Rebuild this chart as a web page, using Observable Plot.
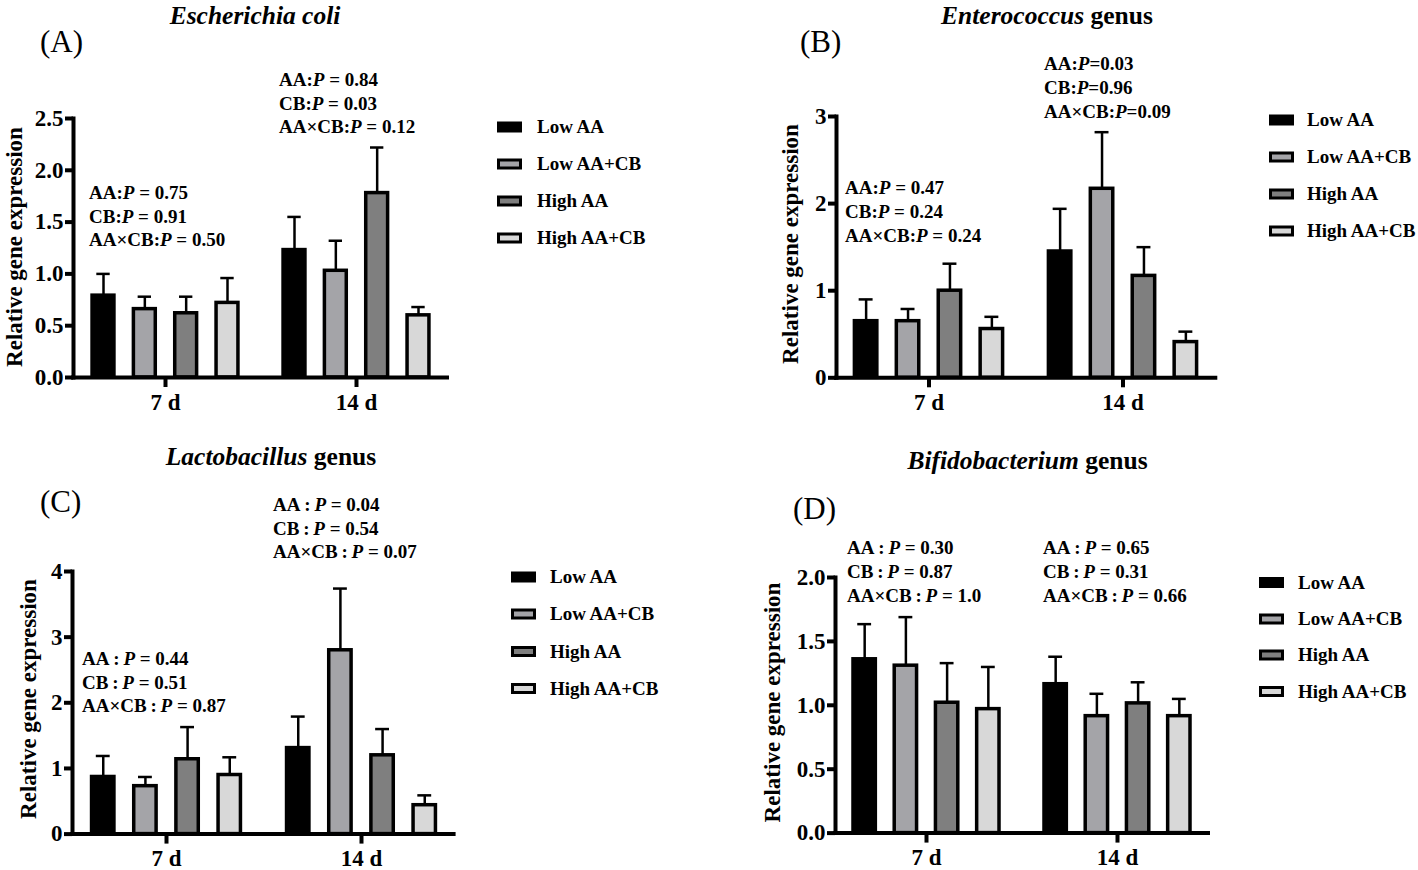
<!DOCTYPE html>
<html>
<head>
<meta charset="utf-8">
<script src="https://cdn.jsdelivr.net/npm/d3@7"></script>
<script src="https://cdn.jsdelivr.net/npm/@observablehq/plot@0.6"></script>
<style>
html,body{margin:0;padding:0;background:#fff;}
#page{position:relative;width:1418px;height:870px;overflow:hidden;background:#fff;}
#page svg{position:absolute;}
</style>
</head>
<body>
<div id="page"></div>
<script>
// ---------------- data ----------------
const days = ["7 d", "14 d"];
const treatments = ["Low AA", "Low AA+CB", "High AA", "High AA+CB"];
const fills = ["#000000", "#a4a4a8", "#7f7f7f", "#d8d8d8"];

// (A) Escherichia coli
const ecoliMean7 = [0.79, 0.66, 0.62, 0.72];
const ecoliUpper7 = [1.00, 0.78, 0.78, 0.96];
const ecoliMean14 = [1.23, 1.03, 1.78, 0.60];
const ecoliUpper14 = [1.55, 1.32, 2.22, 0.68];
const ecoliTicks = [0, 0.5, 1.0, 1.5, 2.0, 2.5];
const ecoliAnn7 = ["AA:P = 0.75", "CB:P = 0.91", "AA×CB:P = 0.50"];
const ecoliAnn14 = ["AA:P = 0.84", "CB:P = 0.03", "AA×CB:P = 0.12"];

// (B) Enterococcus genus
const enteroMean7 = [0.65, 0.65, 1.00, 0.56];
const enteroUpper7 = [0.90, 0.79, 1.31, 0.70];
const enteroMean14 = [1.45, 2.17, 1.17, 0.41];
const enteroUpper14 = [1.94, 2.82, 1.50, 0.53];
const enteroTicks = [0, 1, 2, 3];
const enteroAnn7 = ["AA:P = 0.47", "CB:P = 0.24", "AA×CB:P = 0.24"];
const enteroAnn14 = ["AA:P=0.03", "CB:P=0.96", "AA×CB:P=0.09"];

// (C) Lactobacillus genus
const lactoMean7 = [0.87, 0.73, 1.14, 0.90];
const lactoUpper7 = [1.19, 0.87, 1.63, 1.17];
const lactoMean14 = [1.31, 2.80, 1.20, 0.44];
const lactoUpper14 = [1.79, 3.74, 1.60, 0.59];
const lactoTicks = [0, 1, 2, 3, 4];
const lactoAnn7 = ["AA\u2009:\u2009P = 0.44", "CB\u2009:\u2009P = 0.51", "AA×CB\u2009:\u2009P = 0.87"];
const lactoAnn14 = ["AA\u2009:\u2009P = 0.04", "CB\u2009:\u2009P = 0.54", "AA×CB\u2009:\u2009P = 0.07"];

// (D) Bifidobacterium genus
const bifidoMean7 = [1.36, 1.31, 1.02, 0.97];
const bifidoUpper7 = [1.635, 1.69, 1.33, 1.30];
const bifidoMean14 = [1.165, 0.915, 1.015, 0.915];
const bifidoUpper14 = [1.38, 1.09, 1.18, 1.05];
const bifidoTicks = [0, 0.5, 1.0, 1.5, 2.0];
const bifidoAnn7 = ["AA\u2009:\u2009P = 0.30", "CB\u2009:\u2009P = 0.87", "AA×CB\u2009:\u2009P = 1.0"];
const bifidoAnn14 = ["AA\u2009:\u2009P = 0.65", "CB\u2009:\u2009P = 0.31", "AA×CB\u2009:\u2009P = 0.66"];

const yLabel = "Relative gene expression";

// ---------------- layout ----------------
const FONT = "'Liberation Serif','Times New Roman',Times,serif";
const page = d3.select("#page");

const panels = [
  {tag: "(A)", titleIt: "Escherichia coli", titleRest: "", mean7: ecoliMean7, up7: ecoliUpper7, mean14: ecoliMean14, up14: ecoliUpper14,
   ticks: ecoliTicks, fmt: ".1f", ann7: ecoliAnn7, ann14: ecoliAnn14,
   x0: 72.7, x1: 446.7, yTop: 118.3, y0: 377.3,
   titleX: 255, titleY: 24, tagX: 40, tagY: 52,
   a7: [89, 199], a14: [279, 86], annGap: 23.5, annSize: 19,
   ytX: 14, ytY: 247,
   legX: 497, legTX: 537, legY: [127, 164, 201, 238]},
  {tag: "(B)", titleIt: "Enterococcus", titleRest: " genus", mean7: enteroMean7, up7: enteroUpper7, mean14: enteroMean14, up14: enteroUpper14,
   ticks: enteroTicks, fmt: "d", ann7: enteroAnn7, ann14: enteroAnn14,
   x0: 835.7, x1: 1215, yTop: 116, y0: 377.3,
   titleX: 1047, titleY: 23.5, tagX: 800, tagY: 52,
   a7: [845, 193.5], a14: [1044, 69.5], annGap: 24, annSize: 19,
   ytX: 790, ytY: 244,
   legX: 1269, legTX: 1307, legY: [120, 157, 194, 231]},
  {tag: "(C)", titleIt: "Lactobacillus", titleRest: " genus", mean7: lactoMean7, up7: lactoUpper7, mean14: lactoMean14, up14: lactoUpper14,
   ticks: lactoTicks, fmt: "d", ann7: lactoAnn7, ann14: lactoAnn14,
   x0: 71.7, x1: 453.3, yTop: 570.7, y0: 833.3,
   titleX: 271, titleY: 465, tagX: 40, tagY: 512,
   a7: [82, 665], a14: [273, 511], annGap: 23.7, annSize: 19,
   ytX: 28, ytY: 699,
   legX: 511, legTX: 550, legY: [577, 614, 651.5, 688.5]},
  {tag: "(D)", titleIt: "Bifidobacterium", titleRest: " genus", mean7: bifidoMean7, up7: bifidoUpper7, mean14: bifidoMean14, up14: bifidoUpper14,
   ticks: bifidoTicks, fmt: ".1f", ann7: bifidoAnn7, ann14: bifidoAnn14,
   x0: 835, x1: 1208, yTop: 576.7, y0: 832.3,
   titleX: 1027.5, titleY: 469, tagX: 793, tagY: 519,
   a7: [847, 554], a14: [1043, 554], annGap: 23.8, annSize: 19,
   ytX: 771.5, ytY: 702.5,
   legX: 1259, legTX: 1298, legY: [582.5, 619, 655, 691.5]}
];

function drawPanel(p) {
  const mL = 80, mR = 20, mT = 20, mB = 50;
  const W = (p.x1 - p.x0) + mL + mR;
  const H = (p.y0 - p.yTop) + mT + mB;
  const means = [p.mean7, p.mean14], ups = [p.up7, p.up14];
  const rows = [];
  days.forEach((d, di) => treatments.forEach((t, ti) =>
    rows.push({day: d, treat: t, ti, mean: means[di][ti], upper: ups[di][ti]})));
  const R = p.x1 - p.x0, pI = 0.1, pO = 0.025;
  const step = R / (2 - pI + 2 * pO);
  const bw = step * (1 - pI);
  const barStep = 0.2155 * step;
  const barW = 22.5, capW = 14;
  const yMax = p.ticks[p.ticks.length - 1];
  const marks = [
    Plot.axisY({ticks: p.ticks, tickFormat: d3.format(p.fmt), tickSize: 8, tickPadding: 2, strokeWidth: 4, label: null, fontSize: 23}),
    Plot.axisX({tickSize: 10, tickPadding: 6, strokeWidth: 4, label: null, fontSize: 23})
  ];
  treatments.forEach((t, ti) => {
    const data = rows.filter(r => r.ti === ti);
    const dx = (ti - 1.5) * barStep;
    marks.push(Plot.ruleX(data, {x: "day", y1: "mean", y2: "upper", dx, stroke: "#000", strokeWidth: 2.5}));
    marks.push(Plot.tickY(data, {x: "day", y: "upper", dx, inset: (bw - capW) / 2, stroke: "#000", strokeWidth: 2.5}));
    marks.push(Plot.barY(data, {x: "day", y: "mean", dx, insetLeft: (bw - barW) / 2, insetRight: (bw - barW) / 2,
      fill: "treat", stroke: "#000", strokeWidth: 3.5}));
  });
  marks.push(Plot.ruleY([0], {stroke: "#000", strokeWidth: 4, strokeLinecap: "square"}));
  marks.push(Plot.frame({anchor: "left", stroke: "#000", strokeWidth: 4, strokeLinecap: "square"}));
  const svg = Plot.plot({
    width: W, height: H,
    marginLeft: mL, marginRight: mR, marginTop: mT, marginBottom: mB,
    x: {type: "band", domain: days, paddingInner: pI, paddingOuter: pO, align: 0.5},
    y: {domain: [0, yMax]},
    color: {domain: treatments, range: fills},
    style: {fontFamily: FONT, fontSize: "23px", fontWeight: "bold", background: "transparent", color: "#000", overflow: "visible"},
    marks
  });
  d3.select(svg).style("left", (p.x0 - mL) + "px").style("top", (p.yTop - mT) + "px");
  page.node().appendChild(svg);
}

panels.forEach(drawPanel);

// ---------------- text overlay ----------------
const ov = page.append("svg").attr("width", 1418).attr("height", 870)
  .style("left", "0px").style("top", "0px")
  .attr("font-family", FONT).attr("fill", "#000");

function annLine(x, y, str, size) {
  const t = ov.append("text").attr("x", x).attr("y", y).attr("font-size", size).attr("font-weight", "bold");
  const i = str.indexOf("P");
  t.append("tspan").text(str.slice(0, i));
  t.append("tspan").attr("font-style", "italic").text("P");
  t.append("tspan").text(str.slice(i + 1));
}

panels.forEach(p => {
  // title
  const tt = ov.append("text").attr("x", p.titleX).attr("y", p.titleY).attr("text-anchor", "middle")
    .attr("font-size", 25.5).attr("font-weight", "bold");
  tt.append("tspan").attr("font-style", "italic").text(p.titleIt);
  if (p.titleRest) tt.append("tspan").text(p.titleRest);
  // panel tag
  ov.append("text").attr("x", p.tagX).attr("y", p.tagY).attr("font-size", 31).text(p.tag);
  // y title
  ov.append("text").attr("transform", `translate(${p.ytX},${p.ytY}) rotate(-90)`)
    .attr("text-anchor", "middle").attr("dy", "0.35em").attr("font-size", 23).attr("font-weight", "bold").text(yLabel);
  // annotations
  p.ann7.forEach((s, k) => annLine(p.a7[0], p.a7[1] + k * p.annGap, s, p.annSize));
  p.ann14.forEach((s, k) => annLine(p.a14[0], p.a14[1] + k * p.annGap, s, p.annSize));
  // legend
  treatments.forEach((t, ti) => {
    const cy = p.legY[ti];
    if (ti === 0) {
      ov.append("rect").attr("x", p.legX).attr("y", cy - 5.5).attr("width", 25).attr("height", 11).attr("fill", "#000");
    } else {
      ov.append("rect").attr("x", p.legX + 1.5).attr("y", cy - 4).attr("width", 22).attr("height", 8)
        .attr("fill", fills[ti]).attr("stroke", "#000").attr("stroke-width", 3);
    }
    ov.append("text").attr("x", p.legTX).attr("y", cy).attr("dy", "0.34em")
      .attr("font-size", 19).attr("font-weight", "bold").text(t);
  });
});
</script>
</body>
</html>
